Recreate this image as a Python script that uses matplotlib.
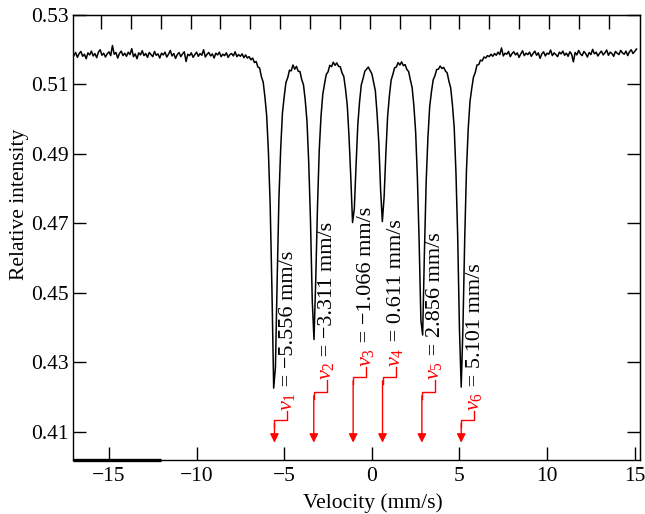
import numpy as np
import matplotlib
matplotlib.use("Agg")
import matplotlib.pyplot as plt

plt.rcParams['font.family'] = ['Liberation Serif', 'DejaVu Serif']
plt.rcParams['mathtext.fontset'] = 'custom'
plt.rcParams['mathtext.rm'] = 'Liberation Serif'
plt.rcParams['mathtext.it'] = 'Liberation Serif:italic'

# ---------------- data ----------------
vel_start, vel_step = -17.0, 0.1   # channel grid of the spectrum (mm/s)

# baseline left of the sextet, -17.0 ... -7.1 mm/s
intensity_left = [
    0.5183, 0.5192, 0.5178, 0.5189, 0.5195, 0.5181, 0.5187, 0.5174, 0.5191, 0.5185,
    0.5196, 0.5182, 0.5189, 0.5177, 0.5193, 0.5200, 0.5184, 0.5190, 0.5179, 0.5188,
    0.5194, 0.5183, 0.5212, 0.5187, 0.5192, 0.5176, 0.5189, 0.5196, 0.5183, 0.5190,
    0.5181, 0.5193, 0.5186, 0.5203, 0.5180, 0.5188, 0.5174, 0.5191, 0.5185, 0.5197,
    0.5183, 0.5189, 0.5178, 0.5192, 0.5186, 0.5180, 0.5195, 0.5184, 0.5188, 0.5176,
    0.5190, 0.5185, 0.5193, 0.5179, 0.5187, 0.5198, 0.5182, 0.5189, 0.5175, 0.5186,
    0.5192, 0.5180, 0.5188, 0.5194, 0.5166, 0.5187, 0.5183, 0.5191, 0.5178, 0.5186,
    0.5193, 0.5181, 0.5189, 0.5184, 0.5200, 0.5179, 0.5187, 0.5192, 0.5182, 0.5188,
    0.5176, 0.5190, 0.5185, 0.5193, 0.5180, 0.5187, 0.5183, 0.5191, 0.5178, 0.5186,
    0.5189, 0.5182, 0.5194, 0.5180, 0.5186, 0.5181, 0.5188, 0.5177, 0.5185, 0.5176,
]
# sextet region, -7.0 ... 7.0 mm/s
intensity_core = [
    0.5180, 0.5171, 0.5176, 0.5163, 0.5166, 0.5150, 0.5147, 0.5122, 0.5107, 0.5064,
    0.5010, 0.4905, 0.4752, 0.4510, 0.4225, 0.4285, 0.4540, 0.4773, 0.4915, 0.5018,
    0.5065, 0.5106, 0.5119, 0.5141, 0.5139, 0.5156, 0.5144, 0.5152, 0.5138, 0.5137,
    0.5114, 0.5099, 0.5055, 0.4994, 0.4874, 0.4708, 0.4479, 0.4365, 0.4537, 0.4749,
    0.4911, 0.5008, 0.5071, 0.5101, 0.5129, 0.5136, 0.5155, 0.5151, 0.5164, 0.5155,
    0.5162, 0.5152, 0.5151, 0.5133, 0.5123, 0.5086, 0.5039, 0.4948, 0.4832, 0.4702,
    0.4741, 0.4867, 0.4984, 0.5050, 0.5099, 0.5117, 0.5138, 0.5144, 0.5150, 0.5140,
    0.5131, 0.5106, 0.5082, 0.5015, 0.4930, 0.4797, 0.4705, 0.4775, 0.4900, 0.5007,
    0.5066, 0.5112, 0.5129, 0.5148, 0.5150, 0.5163, 0.5156, 0.5165, 0.5154, 0.5157,
    0.5143, 0.5137, 0.5113, 0.5091, 0.5038, 0.4963, 0.4831, 0.4646, 0.4420, 0.4378,
    0.4614, 0.4818, 0.4946, 0.5035, 0.5078, 0.5113, 0.5125, 0.5143, 0.5144, 0.5153,
    0.5146, 0.5149, 0.5139, 0.5133, 0.5109, 0.5090, 0.5041, 0.4976, 0.4846, 0.4660,
    0.4395, 0.4228, 0.4402, 0.4655, 0.4853, 0.4972, 0.5050, 0.5088, 0.5121, 0.5134,
    0.5156, 0.5157, 0.5170, 0.5168, 0.5179, 0.5176, 0.5183, 0.5180, 0.5187, 0.5181,
    0.5189,
]
# baseline right of the sextet, 7.1 ... 15.1 mm/s
intensity_right = [
    0.5184, 0.5193, 0.5186, 0.5205, 0.5182, 0.5190, 0.5187, 0.5195, 0.5180, 0.5189,
    0.5194, 0.5185, 0.5191, 0.5178, 0.5188, 0.5197, 0.5183, 0.5190, 0.5186, 0.5193,
    0.5181, 0.5189, 0.5196, 0.5184, 0.5191, 0.5175, 0.5188, 0.5194, 0.5182, 0.5190,
    0.5187, 0.5199, 0.5183, 0.5191, 0.5186, 0.5180, 0.5193, 0.5188, 0.5196, 0.5184,
    0.5190, 0.5181, 0.5194, 0.5187, 0.5165, 0.5192, 0.5185, 0.5198, 0.5188, 0.5183,
    0.5195, 0.5189, 0.5179, 0.5192, 0.5186, 0.5201, 0.5188, 0.5193, 0.5182, 0.5190,
    0.5196, 0.5185, 0.5191, 0.5199, 0.5184, 0.5193, 0.5189, 0.5181, 0.5195, 0.5190,
    0.5186, 0.5198, 0.5191, 0.5187, 0.5196, 0.5183, 0.5194, 0.5200, 0.5189, 0.5195,
    0.5202,
]

line_velocities = [-5.556, -3.311, -1.066, 0.611, 2.856, 5.101]
line_names = ['1', '2', '3', '4', '5', '6']
label_bottoms = [0.4160, 0.4247, 0.4287, 0.4287, 0.4247, 0.4160]
elbow_levels = [0.4133, 0.4213, 0.4256, 0.4256, 0.4213, 0.4133]
arrow_tip = 0.4068
label_offset = 0.74

x_ticks = [-15, -10, -5, 0, 5, 10, 15]
y_ticks = [0.41, 0.43, 0.45, 0.47, 0.49, 0.51, 0.53]
y_ticklabels = ['0.41', '0.43', '0.45', '0.47', '0.49', '0.51', '0.53']

# ---------------- figure ----------------
intensity = np.array(intensity_left + intensity_core + intensity_right)
velocity = np.round(vel_start + vel_step * np.arange(len(intensity)), 2)

fig = plt.figure(figsize=(6.45, 5.14), dpi=100)
ax = fig.add_axes([0.1132, 0.1051, 0.8790, 0.8657])
ax.plot(velocity, intensity, color='black', lw=1.1)

ax.set_xlim(-17.05, 15.3)
ax.set_ylim(0.4018, 0.530)
ax.set_xticks(x_ticks)
ax.set_yticks(y_ticks)
ax.set_yticklabels(y_ticklabels)
for sp in ax.spines.values():
    sp.set_linewidth(1.0)
ax.tick_params(axis='x', direction='in', length=9.5, width=1.0, labelsize=15.5, pad=5)
ax.tick_params(axis='y', direction='in', length=9.5, width=1.0, labelsize=15.5, pad=3)
# thicker piece of the bottom frame at the far left, as in the original
ax.plot([0, 0.155], [0, 0], transform=ax.transAxes, color='black', lw=2.4,
        clip_on=False, solid_capstyle='butt')

secy = ax.secondary_yaxis('right')
secy.set_yticks(y_ticks)
secy.tick_params(direction='in', length=9.5, width=1.0, labelright=False)
secx = ax.secondary_xaxis('top')
secx.set_xticks(np.round(-15.46 + 1.705 * np.arange(18), 3))
secx.tick_params(direction='in', length=10, width=1.0, labeltop=False)

ax.set_xlabel('Velocity (mm/s)', fontsize=15.5, labelpad=2)
ax.xaxis.set_label_coords(0.529, -0.075)
ax.set_ylabel('Relative intensity', fontsize=15.5, labelpad=6)
ax.yaxis.set_label_coords(-0.077, 0.575)

fig.canvas.draw()
for v, name, yb, ye in zip(line_velocities, line_names, label_bottoms, elbow_levels):
    xt = v + label_offset
    t1 = ax.text(xt, yb, r'$v_{%s}$' % name, color='red', rotation=90,
                 ha='center', va='bottom', fontsize=16)
    fig.canvas.draw()
    bb = t1.get_window_extent()
    ytop = ax.transData.inverted().transform((0, bb.y1))[1]
    val = ('%.3f' % v).replace('-', '\u2212')
    ax.text(xt + 0.05, ytop, ' = %s mm/s' % val, color='black', rotation=90,
            ha='center', va='bottom', fontsize=16)
    ax.plot([xt, xt, v, v], [yb, ye, ye, ye - 0.002], color='red', lw=1.0)
    ax.annotate('', xy=(v, arrow_tip), xytext=(v, ye - 0.001),
                arrowprops=dict(arrowstyle='-|>', color='red', lw=1.0,
                                mutation_scale=13, shrinkA=0, shrinkB=0))

fig.savefig('out.png', dpi=100)
